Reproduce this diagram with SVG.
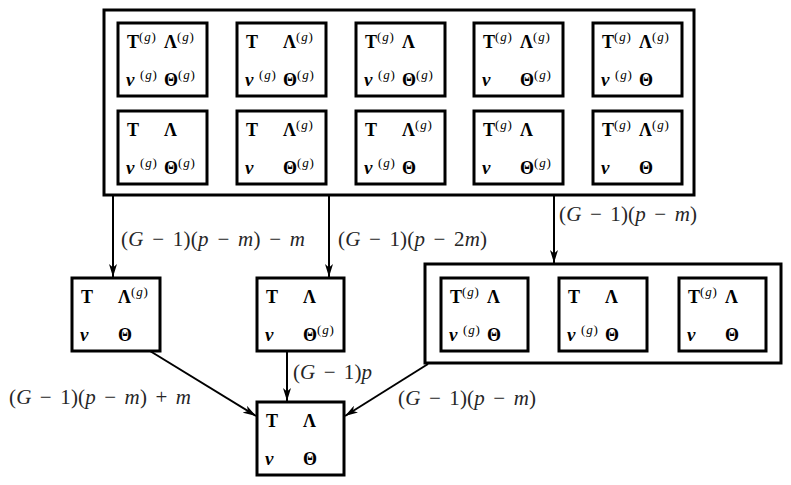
<svg xmlns="http://www.w3.org/2000/svg" width="791" height="485" viewBox="0 0 791 485">
<defs>
<style>
text{font-family:"Liberation Serif","Times New Roman",Times,serif}
.box{fill:#fff;stroke:#000;stroke-width:3}
.frame{fill:none;stroke:#000;stroke-width:3}
.b{font-weight:bold;font-size:18px;fill:#000}
.bi{font-weight:bold;font-style:italic;font-size:19px;fill:#000}
.s{font-size:13px;fill:#000;letter-spacing:0.8px}
.lab{font-size:21px;fill:#262626;word-spacing:3px}
.i{font-style:italic}
.edge{fill:none;stroke:#000;stroke-width:2}
</style>
<marker id="ah" viewBox="0 0 13 8" refX="13" refY="4" markerWidth="13" markerHeight="8" markerUnits="userSpaceOnUse" orient="auto">
<path d="M0,0 L13,4 L0,8 L3.5,4 z" fill="#000"/>
</marker>
</defs>
<rect width="791" height="485" fill="#fff"/>

<g id="top-group">
<rect class="frame" x="104" y="10" width="590" height="185"/>
</g>

<!-- Row 1 -->
<g id="n11" transform="translate(118,23)">
<rect class="box" width="89" height="73"/>
<text class="b" x="9" y="25">T</text><text class="s" x="21" y="18">(<tspan class="i">g</tspan>)</text>
<text class="b" x="46" y="25">Λ</text><text class="s" x="59" y="18">(<tspan class="i">g</tspan>)</text>
<text class="bi" x="8" y="63">ν</text><text class="s" x="22" y="56">(<tspan class="i">g</tspan>)</text>
<text class="b" x="46" y="63">Θ</text><text class="s" x="60" y="56">(<tspan class="i">g</tspan>)</text>
</g>
<g id="n12" transform="translate(237,23)">
<rect class="box" width="89" height="73"/>
<text class="b" x="9" y="25">T</text>
<text class="b" x="46" y="25">Λ</text><text class="s" x="59" y="18">(<tspan class="i">g</tspan>)</text>
<text class="bi" x="8" y="63">ν</text><text class="s" x="22" y="56">(<tspan class="i">g</tspan>)</text>
<text class="b" x="46" y="63">Θ</text><text class="s" x="60" y="56">(<tspan class="i">g</tspan>)</text>
</g>
<g id="n13" transform="translate(356,23)">
<rect class="box" width="89" height="73"/>
<text class="b" x="9" y="25">T</text><text class="s" x="21" y="18">(<tspan class="i">g</tspan>)</text>
<text class="b" x="46" y="25">Λ</text>
<text class="bi" x="8" y="63">ν</text><text class="s" x="22" y="56">(<tspan class="i">g</tspan>)</text>
<text class="b" x="46" y="63">Θ</text><text class="s" x="60" y="56">(<tspan class="i">g</tspan>)</text>
</g>
<g id="n14" transform="translate(474,23)">
<rect class="box" width="89" height="73"/>
<text class="b" x="9" y="25">T</text><text class="s" x="21" y="18">(<tspan class="i">g</tspan>)</text>
<text class="b" x="46" y="25">Λ</text><text class="s" x="59" y="18">(<tspan class="i">g</tspan>)</text>
<text class="bi" x="8" y="63">ν</text>
<text class="b" x="46" y="63">Θ</text><text class="s" x="60" y="56">(<tspan class="i">g</tspan>)</text>
</g>
<g id="n15" transform="translate(593,23)">
<rect class="box" width="89" height="73"/>
<text class="b" x="9" y="25">T</text><text class="s" x="21" y="18">(<tspan class="i">g</tspan>)</text>
<text class="b" x="46" y="25">Λ</text><text class="s" x="59" y="18">(<tspan class="i">g</tspan>)</text>
<text class="bi" x="8" y="63">ν</text><text class="s" x="22" y="56">(<tspan class="i">g</tspan>)</text>
<text class="b" x="46" y="63">Θ</text>
</g>

<!-- Row 2 -->
<g id="n21" transform="translate(118,111)">
<rect class="box" width="89" height="73"/>
<text class="b" x="9" y="25">T</text>
<text class="b" x="46" y="25">Λ</text>
<text class="bi" x="8" y="63">ν</text><text class="s" x="22" y="56">(<tspan class="i">g</tspan>)</text>
<text class="b" x="46" y="63">Θ</text><text class="s" x="60" y="56">(<tspan class="i">g</tspan>)</text>
</g>
<g id="n22" transform="translate(237,111)">
<rect class="box" width="89" height="73"/>
<text class="b" x="9" y="25">T</text>
<text class="b" x="46" y="25">Λ</text><text class="s" x="59" y="18">(<tspan class="i">g</tspan>)</text>
<text class="bi" x="8" y="63">ν</text>
<text class="b" x="46" y="63">Θ</text><text class="s" x="60" y="56">(<tspan class="i">g</tspan>)</text>
</g>
<g id="n23" transform="translate(356,111)">
<rect class="box" width="89" height="73"/>
<text class="b" x="9" y="25">T</text>
<text class="b" x="46" y="25">Λ</text><text class="s" x="59" y="18">(<tspan class="i">g</tspan>)</text>
<text class="bi" x="8" y="63">ν</text><text class="s" x="22" y="56">(<tspan class="i">g</tspan>)</text>
<text class="b" x="46" y="63">Θ</text>
</g>
<g id="n24" transform="translate(474,111)">
<rect class="box" width="89" height="73"/>
<text class="b" x="9" y="25">T</text><text class="s" x="21" y="18">(<tspan class="i">g</tspan>)</text>
<text class="b" x="46" y="25">Λ</text>
<text class="bi" x="8" y="63">ν</text>
<text class="b" x="46" y="63">Θ</text><text class="s" x="60" y="56">(<tspan class="i">g</tspan>)</text>
</g>
<g id="n25" transform="translate(593,111)">
<rect class="box" width="89" height="73"/>
<text class="b" x="9" y="25">T</text><text class="s" x="21" y="18">(<tspan class="i">g</tspan>)</text>
<text class="b" x="46" y="25">Λ</text><text class="s" x="59" y="18">(<tspan class="i">g</tspan>)</text>
<text class="bi" x="8" y="63">ν</text>
<text class="b" x="46" y="63">Θ</text>
</g>

<!-- Middle tier -->
<g id="m1" transform="translate(72,278)">
<rect class="box" width="88" height="73"/>
<text class="b" x="9" y="25">T</text>
<text class="b" x="46" y="25">Λ</text><text class="s" x="59" y="18">(<tspan class="i">g</tspan>)</text>
<text class="bi" x="8" y="63">ν</text>
<text class="b" x="46" y="63">Θ</text>
</g>
<g id="m2" transform="translate(257,278)">
<rect class="box" width="87" height="73"/>
<text class="b" x="9" y="25">T</text>
<text class="b" x="46" y="25">Λ</text>
<text class="bi" x="8" y="63">ν</text>
<text class="b" x="46" y="63">Θ</text><text class="s" x="60" y="56">(<tspan class="i">g</tspan>)</text>
</g>
<g id="m3-group">
<rect class="frame" x="425" y="264" width="356" height="99"/>
</g>
<g id="m31" transform="translate(441,278)">
<rect class="box" width="87" height="73"/>
<text class="b" x="9" y="25">T</text><text class="s" x="21" y="18">(<tspan class="i">g</tspan>)</text>
<text class="b" x="46" y="25">Λ</text>
<text class="bi" x="8" y="63">ν</text><text class="s" x="22" y="56">(<tspan class="i">g</tspan>)</text>
<text class="b" x="46" y="63">Θ</text>
</g>
<g id="m32" transform="translate(559,278)">
<rect class="box" width="88" height="73"/>
<text class="b" x="9" y="25">T</text>
<text class="b" x="46" y="25">Λ</text>
<text class="bi" x="8" y="63">ν</text><text class="s" x="22" y="56">(<tspan class="i">g</tspan>)</text>
<text class="b" x="46" y="63">Θ</text>
</g>
<g id="m33" transform="translate(679,278)">
<rect class="box" width="87" height="73"/>
<text class="b" x="9" y="25">T</text><text class="s" x="21" y="18">(<tspan class="i">g</tspan>)</text>
<text class="b" x="46" y="25">Λ</text>
<text class="bi" x="8" y="63">ν</text>
<text class="b" x="46" y="63">Θ</text>
</g>

<!-- Bottom -->
<g id="bottom" transform="translate(257,402)">
<rect class="box" width="87" height="73"/>
<text class="b" x="9" y="25">T</text>
<text class="b" x="46" y="25">Λ</text>
<text class="bi" x="8" y="63">ν</text>
<text class="b" x="46" y="63">Θ</text>
</g>

<g id="connectors">
<line class="edge" x1="113" y1="196" x2="113" y2="277" marker-end="url(#ah)"/>
<line class="edge" x1="329" y1="196" x2="329" y2="277" marker-end="url(#ah)"/>
<line class="edge" x1="554" y1="196" x2="554" y2="263" marker-end="url(#ah)"/>
<line class="edge" x1="150" y1="351" x2="256" y2="416" marker-end="url(#ah)"/>
<line class="edge" x1="287" y1="352" x2="287" y2="401" marker-end="url(#ah)"/>
<line class="edge" x1="428" y1="364" x2="345" y2="416" marker-end="url(#ah)"/>
</g>

<g id="labels">
<text class="lab" x="121" y="246" textLength="184" lengthAdjust="spacing">(<tspan class="i">G</tspan> − 1)(<tspan class="i">p</tspan> − <tspan class="i">m</tspan>) − <tspan class="i">m</tspan></text>
<text class="lab" x="338" y="246" textLength="149" lengthAdjust="spacing">(<tspan class="i">G</tspan> − 1)(<tspan class="i">p</tspan> − 2<tspan class="i">m</tspan>)</text>
<text class="lab" x="559" y="221" textLength="138" lengthAdjust="spacing">(<tspan class="i">G</tspan> − 1)(<tspan class="i">p</tspan> − <tspan class="i">m</tspan>)</text>
<text class="lab" x="9" y="404" textLength="182" lengthAdjust="spacing">(<tspan class="i">G</tspan> − 1)(<tspan class="i">p</tspan> − <tspan class="i">m</tspan>) + <tspan class="i">m</tspan></text>
<text class="lab" x="293" y="379" textLength="79" lengthAdjust="spacing">(<tspan class="i">G</tspan> − 1)<tspan class="i">p</tspan></text>
<text class="lab" x="398" y="405" textLength="138" lengthAdjust="spacing">(<tspan class="i">G</tspan> − 1)(<tspan class="i">p</tspan> − <tspan class="i">m</tspan>)</text>
</g>
</svg>
